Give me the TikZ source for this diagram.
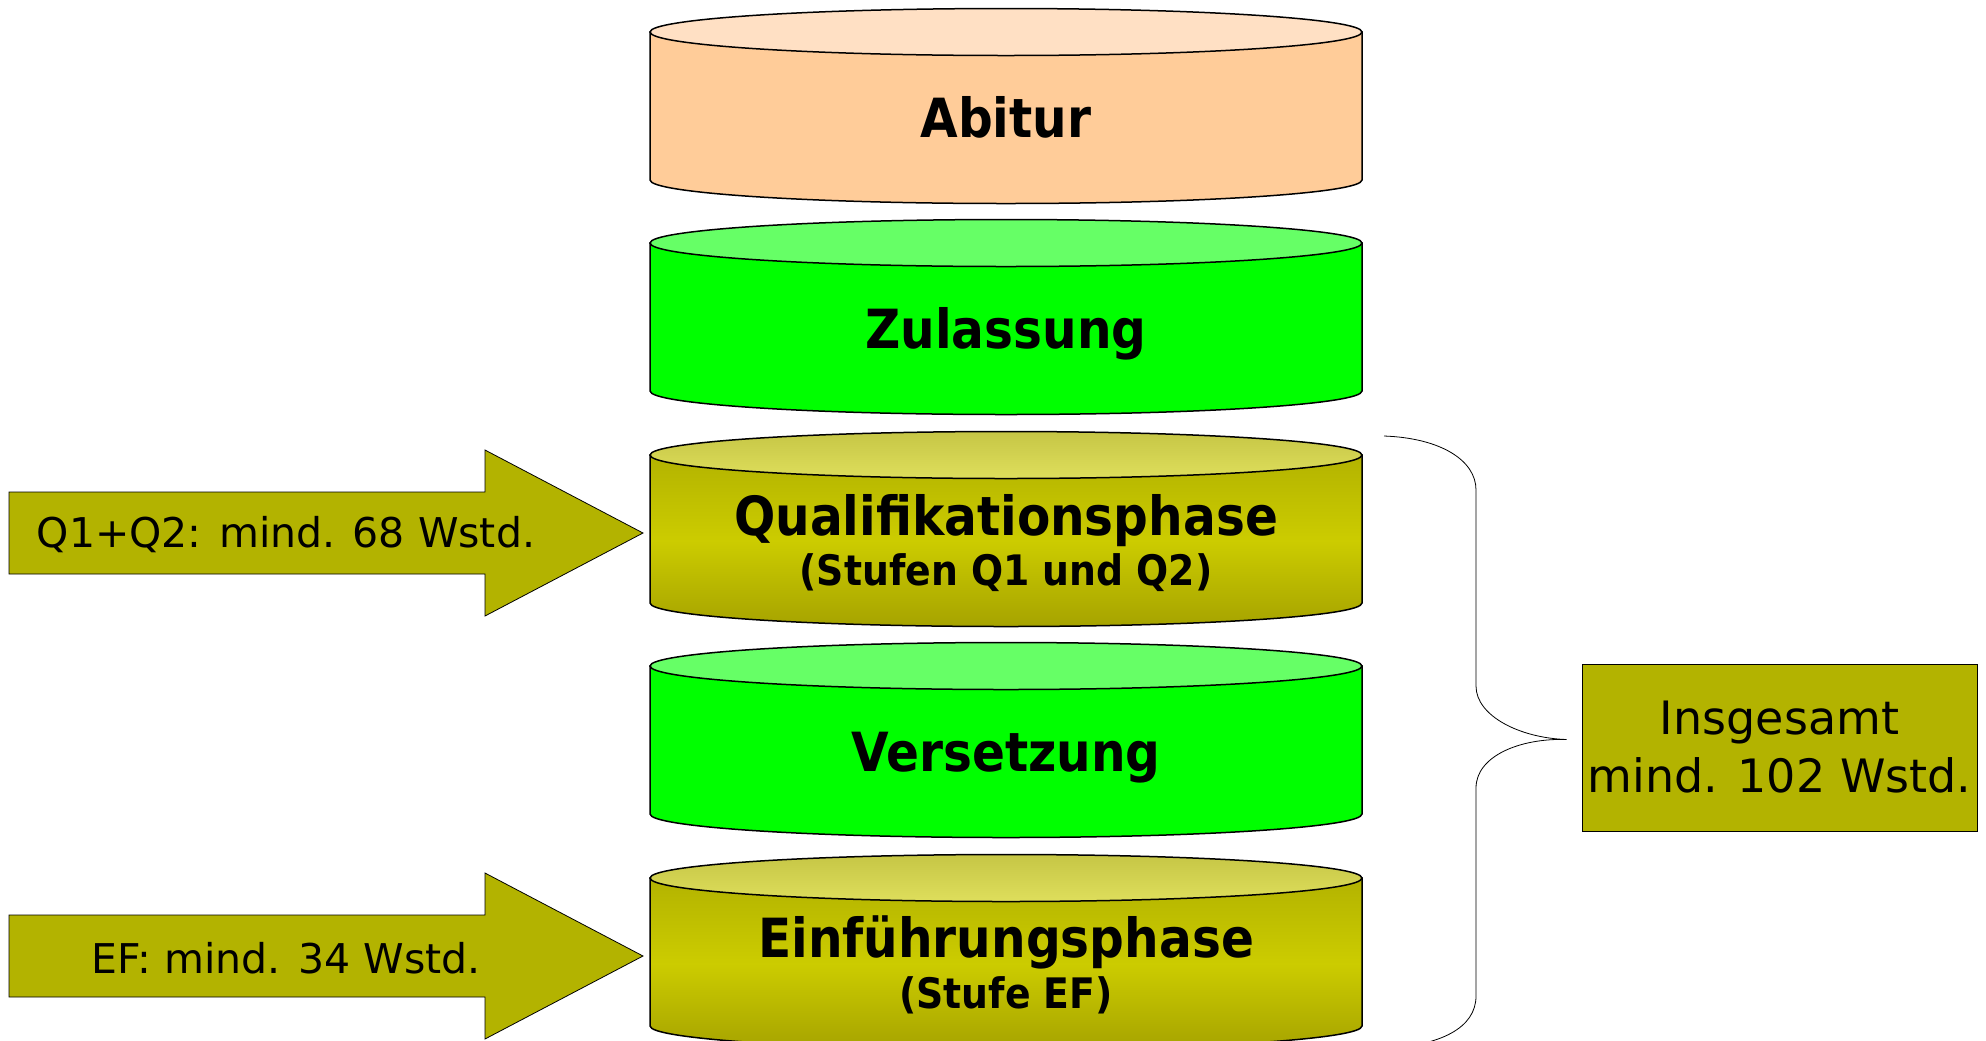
\documentclass[tikz,border=0pt]{standalone}
\usepackage{fontspec}
\setmainfont{DejaVu Sans}
\newfontfamily\drumfont{DejaVu Sans Condensed}
\usetikzlibrary{positioning,calc}

\definecolor{peachbody}{HTML}{FFCC99}
\definecolor{peachtop}{HTML}{FFE0C4}
\definecolor{greenbody}{HTML}{00FF00}
\definecolor{greentop}{HTML}{66FF66}
\definecolor{olivebox}{HTML}{B3B300}
\definecolor{olivedark}{HTML}{A6A300}
\definecolor{olivemid}{HTML}{CCCC00}
\definecolor{olivetop}{HTML}{DEDE5C}
\definecolor{olivetopdark}{HTML}{C6C645}

\tikzset{
  drumtext/.style={anchor=base, font=\drumfont\bfseries\fontsize{27}{30}\selectfont},
  subtext/.style={anchor=base, font=\drumfont\bfseries\fontsize{21}{24}\selectfont},
  feeder/.style={fill=olivebox, draw=black, line width=0.4pt},
  feedtext/.style={font=\fontsize{20.5}{24}\selectfont},
  totalbox/.style={fill=olivebox, draw=black, line width=0.5pt, inner sep=0pt,
    minimum width=197.5pt, minimum height=83.5pt, align=center,
    font=\fontsize{23}{29}\selectfont},
  olivebody/.style={top color=olivebox, bottom color=olivedark, middle color=olivemid},
  olivelid/.style={top color=olivetopdark, bottom color=olivetop},
}

% drum: name, top y, body fill, lid fill, label
\newcommand{\drum}[5]{%
  \path[#3, draw=black, line width=0.75pt] (650,#2) -- (650,#2+148)
    arc[start angle=180, end angle=0, x radius=356, y radius=23.5] -- (1362,#2) -- cycle;
  \draw[#4, line width=0.75pt] (1006,#2) ellipse[x radius=356, y radius=23.5];
  \node[drumtext] (#1) at (1006,#2+105) {#5};
}

\begin{document}
\begin{tikzpicture}[x=0.5pt, y=-0.5pt]
  \useasboundingbox (0,0) rectangle (1986,1040);

  \drum{abitur}{32}{fill=peachbody}{fill=peachtop}{Abitur}
  \drum{zulassung}{243}{fill=greenbody}{fill=greentop}{Zulassung}
  \drum{qphase}{455}{olivebody}{olivelid}{}
  \drum{versetzung}{666}{fill=greenbody}{fill=greentop}{Versetzung}
  \drum{ephase}{878}{olivebody}{olivelid}{}

  % the two phases carry two lines
  \node[drumtext] (qmain) at (1006,535) {Qualifikationsphase};
  \node[subtext] (qsub) at ([yshift=-25pt]qmain.base) {(Stufen Q1 und Q2)};
  \node[drumtext] (emain) at (1006,957) {Einführungsphase};
  \node[subtext] (esub) at ([yshift=-25.5pt]emain.base) {(Stufe EF)};

  % arrows on the left
  \foreach \y/\txt [count=\i] in {533/{Q1+Q2: mind. 68 Wstd.}, 956/{EF: mind. 34 Wstd.}} {
    \draw[feeder] (9,\y-41) -- (485,\y-41) -- (485,\y-83) -- (643,\y)
      -- (485,\y+83) -- (485,\y+41) -- (9,\y+41) -- cycle;
    \node[feedtext] (feed\i) at (286,\y+2) {\txt};
  }

  % total
  \node[totalbox] (total) at (1779.5,747.5) {Insgesamt\\mind. 102 Wstd.};
  \coordinate[left=7.5pt of total.west, yshift=4pt] (tip);
  \coordinate (bracetop) at (1384,436);
  \coordinate (bracebot) at (1384,1048);
  \draw[line width=0.4pt] (bracetop) .. controls (1440,438) and (1476,460) .. (1476,490)
    -- (1476,686) .. controls (1476,716) and (1520,738) .. (tip)
    .. controls (1520,738) and (1476,756) .. (1476,788)
    -- (1476,996) .. controls (1476,1028) and (1440,1046) .. (bracebot);
\end{tikzpicture}
\end{document}
